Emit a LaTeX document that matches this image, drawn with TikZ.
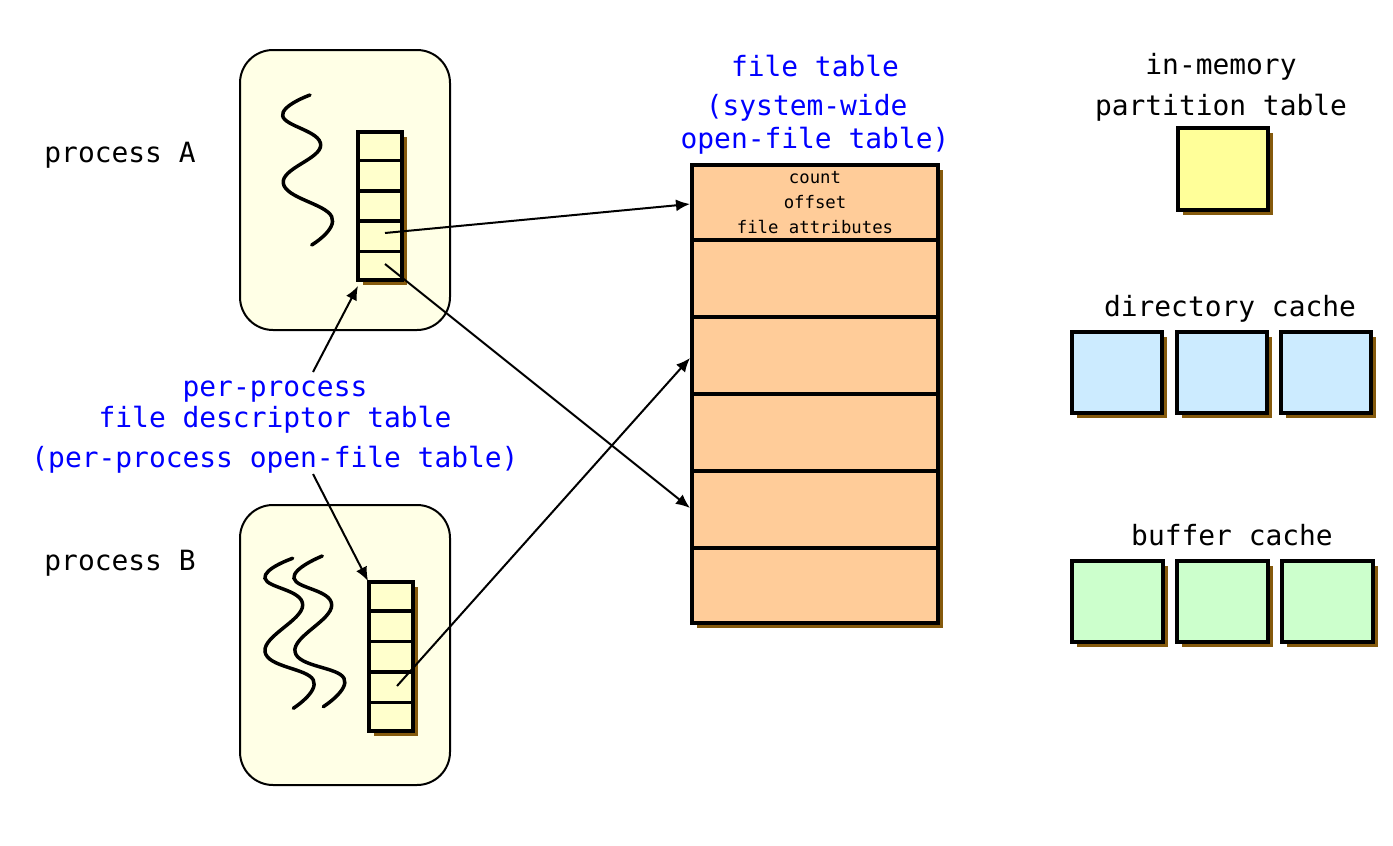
\documentclass[tikz,border=0pt]{standalone}
\usepackage{fontspec}
\setmainfont{DejaVu Sans Mono}
\usetikzlibrary{shadows,arrows.meta,calc}
\definecolor{procfill}{HTML}{FFFFE6}
\definecolor{cellfill}{HTML}{FFFFCC}
\definecolor{shadowbrown}{HTML}{855A0D}
\definecolor{peach}{HTML}{FFCC99}
\definecolor{ptyellow}{HTML}{FFFF99}
\definecolor{dcblue}{HTML}{CCEBFF}
\definecolor{bcgreen}{HTML}{CCFFCC}
\definecolor{lblblue}{HTML}{0000FF}
\newcommand\bigtxt{\fontsize{27.9pt}{31pt}\selectfont}
\newcommand\smalltxt{\fontsize{17.3pt}{25pt}\selectfont}
\begin{document}
\begin{tikzpicture}[x=1pt,y=-1pt,
  bshadow/.style={drop shadow={shadow xshift=5pt,shadow yshift=-5pt,fill=shadowbrown,opacity=1}},
  procbox/.style={draw=black,line width=2pt,fill=procfill,rounded corners=33pt,minimum width=210pt,minimum height=280pt,inner sep=0pt},
  fdtable/.style={draw=black,line width=3.5pt,fill=cellfill,bshadow,minimum width=44pt,minimum height=148pt,inner sep=0pt},
  filetab/.style={draw=black,line width=3.5pt,fill=peach,bshadow,minimum width=246pt,minimum height=458pt,inner sep=0pt},
  cachebox/.style={draw=black,line width=3.5pt,bshadow,minimum width=90pt,minimum height=81pt,inner sep=0pt},
  rowline/.style={line width=3.5pt},
  squig/.style={line width=3.5pt,line cap=round},
  conn/.style={line width=2pt,-{Latex[length=14pt,width=12pt]}},
  blacklbl/.style={font=\bigtxt,text=black,inner sep=0pt,anchor=base},
  bluelbl/.style={font=\bigtxt,text=lblblue,inner sep=0pt,align=center,anchor=base}]
\useasboundingbox (0,0) rectangle (1393,846);

% process boxes
\node[procbox] (pa) at (345,190) {};
\node[procbox] (pb) at (345,645) {};

% squiggles
\draw[squig] plot[smooth,tension=0.75] coordinates {(310,95) (282.7,116) (320.7,145) (283.3,183.3) (331.7,216.7) (311.7,245)};
\draw[squig] plot[smooth,tension=0.75] coordinates {(292.7,558.3) (265,578.3) (302.7,605) (265,651.7) (313.3,680) (293.3,708.3)};
\draw[squig] plot[smooth,tension=0.75] coordinates {(322.3,556) (294,578.3) (331.7,605) (295,651.7) (344,678.3) (323.3,706.7)};

% per-process tables
\node[fdtable] (ta) at (380,206) {};
\foreach \i in {1,...,4}
  \draw[rowline] ($(ta.north west)!{\i/5}!(ta.south west)$) -- ($(ta.north east)!{\i/5}!(ta.south east)$);
\node[fdtable,minimum height=149pt] (tb) at (391,656.5) {};
\foreach \i in {1,...,4}
  \draw[rowline] ($(tb.north west)!{\i/5}!(tb.south west)$) -- ($(tb.north east)!{\i/5}!(tb.south east)$);

% file table
\node[filetab] (ft) at (815,394) {};
\foreach \i in {1,...,5}
  \draw[rowline] ($(ft.north west)!{\i/6}!(ft.south west)$) -- ($(ft.north east)!{\i/6}!(ft.south east)$);
\node[font=\smalltxt,align=center,inner sep=0pt,anchor=base] (ftfields) at (815,233) {count\\offset\\file attributes};

% labels
\node[blacklbl] (lpa) at (120,162) {process A};
\node[blacklbl] (lpb) at (120,570) {process B};
\node[bluelbl] (lfd) at (275,467) {per-process\\file descriptor table\\[9pt](per-process open-file table)};
\node[bluelbl] (lft) at (815,148) {file table\\[8pt](system-wide\hphantom{x}\\[2pt]open-file table)};

% right side caches
\node[blacklbl,align=center] (lpt) at (1221,115) {in-memory\\[10pt]partition table};
\node[cachebox,fill=ptyellow,minimum height=82pt] (pt) at (1223,169) {};
\node[blacklbl] (ldc) at (1230,316) {directory cache};
\node[cachebox,fill=dcblue] (dc1) at (1117,372.5) {};
\node[cachebox,fill=dcblue] (dc2) at (1222,372.5) {};
\node[cachebox,fill=dcblue] (dc3) at (1326,372.5) {};
\node[blacklbl] (lbc) at (1232,545) {buffer cache};
\node[cachebox,fill=bcgreen,minimum width=91pt] (bc1) at (1117.5,601.5) {};
\node[cachebox,fill=bcgreen,minimum width=91pt] (bc2) at (1222.5,601.5) {};
\node[cachebox,fill=bcgreen,minimum width=91pt] (bc3) at (1327.5,601.5) {};

% connector end points
\coordinate (a4) at (385,233);
\coordinate (a5) at (385,264);
\coordinate (b4) at (397,686);
\coordinate (ft1) at (690,204);
\coordinate (ft3) at (690,358);
\coordinate (ft5) at (690,508);
\coordinate (fdA) at (313,372);
\coordinate (fdB) at (313,474);
\coordinate (taIn) at (358,286);
\coordinate (tbIn) at (368,581);

\draw[conn] (a4) -- (ft1);
\draw[conn] (a5) -- (ft5);
\draw[conn] (b4) -- (ft3);
\draw[conn] (fdA) -- (taIn);
\draw[conn] (fdB) -- (tbIn);
\end{tikzpicture}
\end{document}
